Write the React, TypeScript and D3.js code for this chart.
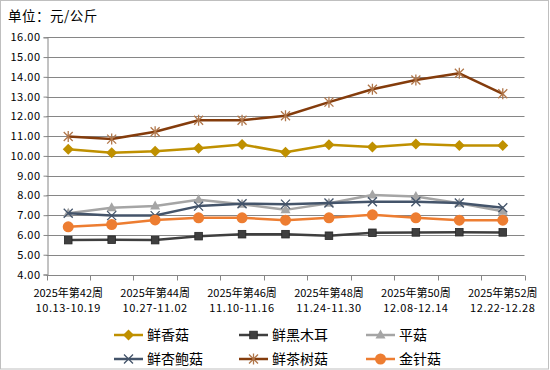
import { useRef, useEffect } from 'react';
import * as d3 from 'd3';

const weeks = ['42', '43', '44', '45', '46', '47', '48', '49', '50', '51', '52'];
const weekLabels = ['2025年第42周', '', '2025年第44周', '', '2025年第46周', '', '2025年第48周', '', '2025年第50周', '', '2025年第52周'];
const dateLabels = ['10.13-10.19', '', '10.27-11.02', '', '11.10-11.16', '', '11.24-11.30', '', '12.08-12.14', '', '12.22-12.28'];

const xiangGu = [10.34, 10.16, 10.24, 10.39, 10.58, 10.18, 10.56, 10.45, 10.6, 10.53, 10.53];
const heiMuEr = [5.74, 5.76, 5.74, 5.94, 6.04, 6.04, 5.96, 6.11, 6.13, 6.14, 6.13];
const pingGu = [7.1, 7.38, 7.46, 7.78, 7.55, 7.27, 7.6, 8.02, 7.95, 7.6, 7.2];
const xingBaoGu = [7.1, 6.98, 6.98, 7.46, 7.58, 7.56, 7.62, 7.68, 7.68, 7.62, 7.38];
const chaShuGu = [10.98, 10.85, 11.22, 11.8, 11.8, 12.03, 12.72, 13.37, 13.84, 14.18, 13.14];
const jinZhenGu = [6.41, 6.53, 6.76, 6.87, 6.87, 6.75, 6.87, 7.02, 6.87, 6.75, 6.75];

const series = [
  { name: '鲜香菇', values: xiangGu, color: '#BF9000', marker: 'diamond' },
  { name: '鲜黑木耳', values: heiMuEr, color: '#3F3F3F', marker: 'square' },
  { name: '平菇', values: pingGu, color: '#A5A5A5', marker: 'triangle' },
  { name: '鲜杏鲍菇', values: xingBaoGu, color: '#44546A', marker: 'x' },
  { name: '鲜茶树菇', values: chaShuGu, color: '#843C0C', marker: 'star' },
  { name: '金针菇', values: jinZhenGu, color: '#ED7D31', marker: 'circle' },
];

const yTicks = d3.range(4, 16.01, 1);
const font = '"Noto Sans CJK SC", "DejaVu Sans", sans-serif';

function drawMarker(g: any, type: string, x: number, y: number, color: string) {
  if (type === 'diamond') {
    g.append('path').attr('d', `M${x},${y - 5.5}L${x + 5.5},${y}L${x},${y + 5.5}L${x - 5.5},${y}Z`).attr('fill', color);
  } else if (type === 'square') {
    g.append('rect').attr('x', x - 3.8).attr('y', y - 3.8).attr('width', 7.6).attr('height', 7.6)
      .attr('fill', color).attr('stroke', '#262626').attr('stroke-width', 0.8);
  } else if (type === 'triangle') {
    g.append('path').attr('d', `M${x},${y - 5.5}L${x + 5},${y + 3.5}L${x - 5},${y + 3.5}Z`).attr('fill', color);
  } else if (type === 'x') {
    g.append('path').attr('d', `M${x - 4.5},${y - 4.5}L${x + 4.5},${y + 4.5}M${x + 4.5},${y - 4.5}L${x - 4.5},${y + 4.5}`)
      .attr('stroke', color).attr('stroke-width', 1.3);
  } else if (type === 'star') {
    g.append('path').attr('d', `M${x - 4.5},${y - 4.5}L${x + 4.5},${y + 4.5}M${x + 4.5},${y - 4.5}L${x - 4.5},${y + 4.5}M${x},${y - 5.5}L${x},${y + 5.5}`)
      .attr('stroke', '#B0764A').attr('stroke-width', 1.3);
  } else if (type === 'circle') {
    g.append('circle').attr('cx', x).attr('cy', y).attr('r', 5.5).attr('fill', color);
  }
}

export default function App() {
  const svgRef = useRef<SVGSVGElement>(null);

  useEffect(() => {
    document.body.style.margin = '0';
    const svg = d3.select(svgRef.current);
    svg.selectAll('*').remove();

    const left = 46.5, right = 524.5, top = 37.3, bottom = 274.5;

    svg.append('rect').attr('x', 0.5).attr('y', 0.5).attr('width', 548).attr('height', 368.5)
      .attr('fill', '#fff').attr('stroke', '#BFBFBF');

    svg.append('text').attr('x', 8).attr('y', 21).text('单位：元/公斤')
      .attr('font-family', font).attr('font-size', 13.5).attr('letter-spacing', 0.5).attr('fill', '#000');

    const x = d3.scaleBand().domain(weeks).range([left, right]);
    const y = d3.scaleLinear().domain([4, 16]).range([bottom, top]);

    // grid
    svg.append('g').selectAll('line').data(yTicks).enter().append('line')
      .attr('x1', left).attr('x2', right)
      .attr('y1', (d) => Math.round(y(d)) + 0.5).attr('y2', (d) => Math.round(y(d)) + 0.5)
      .attr('stroke', '#868686').attr('stroke-width', 1);

    // y axis
    const yAxis = svg.append('g').attr('transform', `translate(${Math.round(left) + 0.5},0)`)
      .call(d3.axisLeft(y).tickValues(yTicks).tickFormat(d3.format('.2f')).tickSize(4).tickPadding(3));
    yAxis.selectAll('line,path').attr('stroke', '#868686');
    yAxis.selectAll('text').attr('font-family', font).attr('font-size', 11).attr('fill', '#000').attr('letter-spacing', 0.5);

    // x axis
    const xAxisG = svg.append('g').attr('transform', `translate(0,${Math.round(bottom) + 0.5})`);
    xAxisG.append('line').attr('x1', left).attr('x2', right).attr('stroke', '#868686');
    const bounds = d3.range(weeks.length + 1).map((i) => left + i * x.step());
    xAxisG.selectAll('.tk').data(bounds).enter().append('line')
      .attr('x1', (d) => Math.round(d) + 0.5).attr('x2', (d) => Math.round(d) + 0.5)
      .attr('y1', 0).attr('y2', 5).attr('stroke', '#868686');
    weeks.forEach((w, i) => {
      if (!weekLabels[i]) return;
      const cx = x(w)! + x.bandwidth() / 2;
      xAxisG.append('text').attr('x', cx).attr('y', 21).attr('text-anchor', 'middle')
        .attr('font-family', font).attr('font-size', 11).attr('fill', '#000').text(weekLabels[i]);
      xAxisG.append('text').attr('x', cx).attr('y', 36).attr('text-anchor', 'middle')
        .attr('font-family', font).attr('font-size', 11).attr('fill', '#000').attr('letter-spacing', 0.6).text(dateLabels[i]);
    });

    const line = d3.line<number>()
      .x((_, i) => x(weeks[i])! + x.bandwidth() / 2)
      .y((d) => y(d));

    series.forEach((s) => {
      const g = svg.append('g');
      g.append('path').attr('d', line(s.values)).attr('fill', 'none')
        .attr('stroke', s.color).attr('stroke-width', 2.5).attr('stroke-linejoin', 'round');
      s.values.forEach((v, i) => drawMarker(g, s.marker, x(weeks[i])! + x.bandwidth() / 2, y(v), s.color));
    });

    // legend
    const legX = [114, 239, 366];
    const legY = [335, 359];
    series.forEach((s, i) => {
      const lx = legX[i % 3], ly = legY[Math.floor(i / 3)];
      const g = svg.append('g');
      g.append('line').attr('x1', lx).attr('x2', lx + 29).attr('y1', ly).attr('y2', ly)
        .attr('stroke', s.color).attr('stroke-width', 2.5);
      drawMarker(g, s.marker, lx + 14.5, ly, s.color);
      g.append('text').attr('x', lx + 33).attr('y', ly + 5).text(s.name)
        .attr('font-family', font).attr('font-size', 14).attr('fill', '#000');
    });
  }, []);

  return <svg ref={svgRef} width={550} height={370} style={{ display: 'block' }} />;
}
